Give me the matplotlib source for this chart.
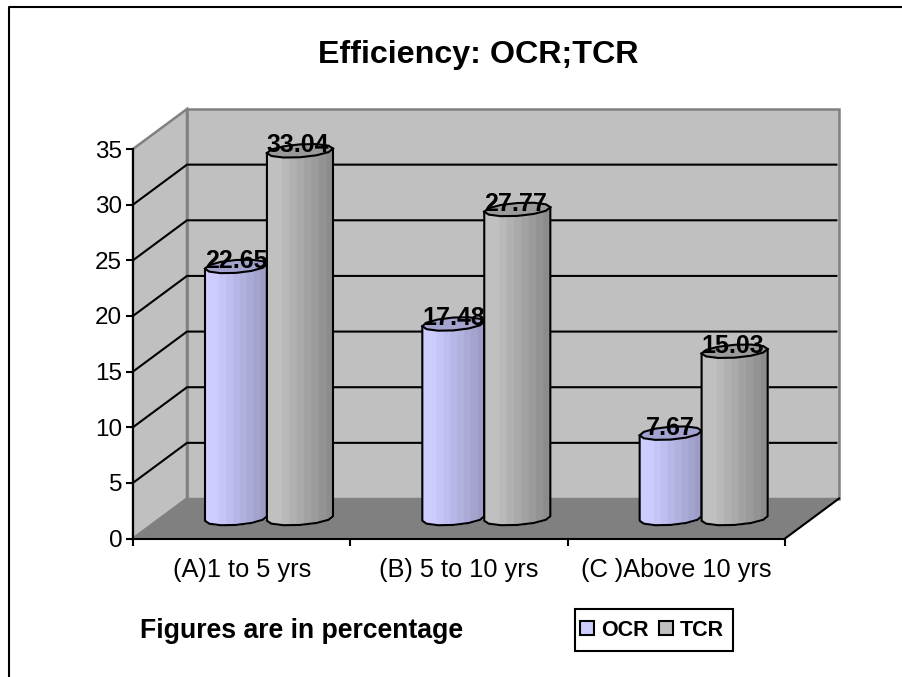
import numpy as np
import matplotlib
matplotlib.use("Agg")
import matplotlib.pyplot as plt
from matplotlib.colors import to_rgb
from matplotlib.lines import Line2D
from matplotlib.patches import Patch, Rectangle

plt.rcParams["font.family"] = ["Liberation Sans", "DejaVu Sans"]

categories = ["(A)1 to 5 yrs", "(B) 5 to 10 yrs", "(C )Above 10 yrs"]
ocr_values = [22.65, 17.48, 7.67]
tcr_values = [33.04, 27.77, 15.03]
ocr_labels = ["22.65", "17.48", "7.67"]
tcr_labels = ["33.04", "27.77", "15.03"]
y_ticks = [0, 5, 10, 15, 20, 25, 30, 35]

W, H = 902, 677
LEFT, RIGHT, BOTTOM, TOP = 133, 785, 538.5, 149

# depth of the fake 3d box, in axis units
DX = 54 / ((RIGHT - LEFT) / 3)
DY = 40 / ((BOTTOM - TOP) / 35)
OCR_W = 0.285
TCR_W = 0.304
CAP = 0.58
TILT = 0.2


def shift(x, y, depth):
    return np.asarray(x) + depth * DX, np.asarray(y) + depth * DY


def cylinder(ax, x_left, width, value, light, dark, cap_color, z):
    x_c = x_left + width / 2
    a = width / 2
    base = 0.5 * DY

    # stepped shading on the side, strips overlap so no gaps show
    n = 9
    edges = np.linspace(x_left, x_left + width, n + 1)
    for i in range(n):
        t = max(i - 1, 0) / (n - 2)
        col = np.array(to_rgb(light)) * (1 - t) + np.array(to_rgb(dark)) * t
        xs = np.linspace(edges[i], x_left + width, 30)
        u = (xs - x_c) / a
        low = base - CAP * np.sqrt(np.clip(1 - u ** 2, 0, 1)) + TILT * u
        ax.fill_between(xs, low, base + value + TILT * u, color=col, lw=0, zorder=z + i * 0.01,
                        clip_on=False)

    # outline and top cap are rough polygons like the original
    th = np.linspace(0, 2 * np.pi, 13)
    cap_x = x_c + a * np.cos(th)
    cap_y = base + value + CAP * np.sin(th) + TILT * np.cos(th)
    ax.fill(cap_x, cap_y, color=cap_color, ec="black", lw=1.5, zorder=z + 1, clip_on=False)

    th2 = np.linspace(np.pi, 2 * np.pi, 7)
    out_x = np.r_[x_left, x_c + a * np.cos(th2), x_left + width]
    out_y = np.r_[base + value - TILT, base + CAP * np.sin(th2) + TILT * np.cos(th2), base + value + TILT]
    ax.plot(out_x, out_y, color="black", lw=1.5, zorder=z + 1, clip_on=False)


fig = plt.figure(figsize=(W / 100, H / 100), dpi=100, facecolor="white")
ax = fig.add_axes([LEFT / W, 1 - BOTTOM / H, (RIGHT - LEFT) / W, (BOTTOM - TOP) / H])
ax.set_xlim(0, len(categories))
ax.set_ylim(0, y_ticks[-1])
ax.patch.set_visible(False)

y_max = y_ticks[-1]
x_max = len(categories)

# walls and floor
bx, by = shift([0, x_max, x_max, 0, 0], [0, 0, y_max, y_max, 0], 1)
ax.fill(bx, by, fc="#C0C0C0", ec="#808080", lw=1.8, zorder=1, clip_on=False)
ax.fill([0, DX, DX, 0], [0, DY, y_max + DY, y_max], fc="#C0C0C0", ec="#808080", lw=1.8, zorder=1, clip_on=False)
ax.fill([0, x_max, x_max + DX, DX], [0, 0, DY, DY], fc="#808080", ec="#808080", lw=1, zorder=2, clip_on=False)
ax.plot([x_max, x_max + DX], [0, DY], color="black", lw=1.5, zorder=3, clip_on=False)

for t in y_ticks[1:-1]:
    ax.plot([0, DX, x_max + DX - 0.012], [t, t + DY, t + DY], color="black", lw=1.5, zorder=3, clip_on=False)

z = 5
for i in range(len(categories)):
    x_c = i + 0.5 + 0.5 * DX - 0.008
    cylinder(ax, x_c - OCR_W, OCR_W, ocr_values[i], "#CCCCFF", "#9C9CC6", "#A3A3CF", z)
    cylinder(ax, x_c, TCR_W, tcr_values[i], "#C0C0C0", "#8C8C8C", "#9A9A9A", z + 3)
    z += 6

for i in range(len(categories)):
    x_c = i + 0.5 + 0.5 * DX - 0.008
    ax.text(x_c - OCR_W / 2, ocr_values[i] + 0.5 * DY + 0.5, ocr_labels[i], ha="center", va="center",
            fontsize=18, fontweight="bold", color="black", zorder=50)
    ax.text(x_c + TCR_W / 2 - 0.008, tcr_values[i] + 0.5 * DY + 0.5, tcr_labels[i], ha="center", va="center",
            fontsize=18, fontweight="bold", color="black", zorder=50)

for s in ["top", "right"]:
    ax.spines[s].set_visible(False)
for s in ["left", "bottom"]:
    ax.spines[s].set_linewidth(1.5)
    ax.spines[s].set_zorder(4)

ax.set_yticks(y_ticks)
ax.tick_params(axis="y", length=4.8, width=1.5, pad=3, labelsize=17.5)
ax.set_xticks(range(x_max + 1))
ax.set_xticklabels([])
ax.tick_params(axis="x", which="major", length=5, width=1.5)
ax.set_xticks(np.arange(len(categories)) + 0.5, minor=True)
ax.set_xticklabels(categories, minor=True)
ax.tick_params(axis="x", which="minor", length=0, pad=14, labelsize=18.3)

fig.text(478 / W, 1 - 55 / H, "Efficiency: OCR;TCR", ha="center", va="center", fontsize=23.2, fontweight="bold")
fig.text(140 / W, 1 - 631 / H, "Figures are in percentage", ha="left", va="center", fontsize=19.2, fontweight="bold")

handles = [Patch(fc="#CCCCFF", ec="black", lw=1.5), Patch(fc="#C0C0C0", ec="black", lw=1.5)]
fig.legend(handles, ["OCR", "TCR"], loc="center", bbox_to_anchor=(652 / W, 1 - 630 / H), ncols=2,
           prop={"weight": "bold", "size": 15.5}, frameon=False,
           handlelength=0.65, handleheight=0.65, handletextpad=0.3, columnspacing=0.5)
fig.add_artist(Rectangle((574.5 / W, 1 - 651 / H), 158.5 / W, 42 / H, transform=fig.transFigure,
                         fc="none", ec="black", lw=1.5))

# outer frame, only left and top are in the picture
fig.add_artist(Line2D([9 / W, 9 / W, 1], [0, 1 - 6.5 / H, 1 - 6.5 / H], color="black", lw=1.5))

fig.savefig("out.png", dpi=100)
